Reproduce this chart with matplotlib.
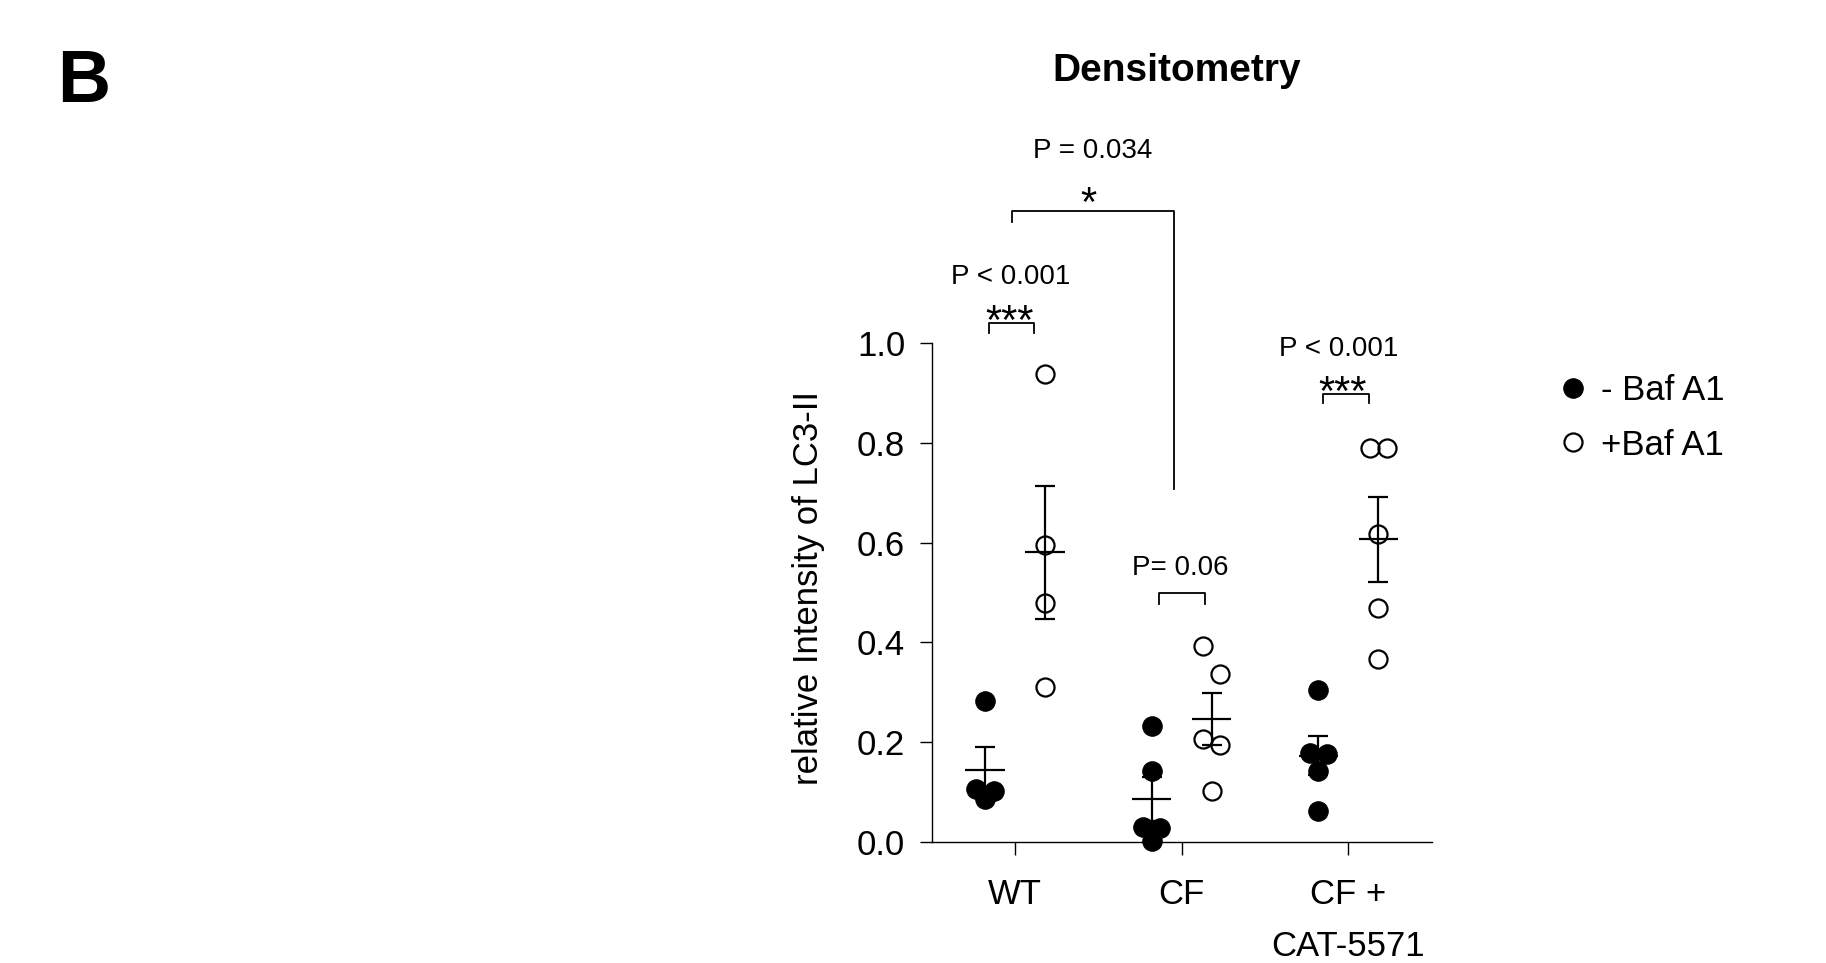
import matplotlib
matplotlib.use('Agg')
import matplotlib.pyplot as plt
import numpy as np
from matplotlib.lines import Line2D
from matplotlib.ticker import FormatStrFormatter

plt.rcParams['font.family'] = ['Liberation Sans', 'DejaVu Sans']

# datos
groups = ['WT', 'CF', 'CF +\nCAT-5571']
wt_minus = [0.282, 0.107, 0.102, 0.086]
wt_plus = [0.938, 0.595, 0.479, 0.310]
cf_minus = [0.232, 0.142, 0.030, 0.028, 0.002]
cf_plus = [0.393, 0.337, 0.207, 0.195, 0.102]
cat_minus = [0.305, 0.179, 0.177, 0.142, 0.063]
cat_plus = [0.790, 0.790, 0.617, 0.469, 0.367]
series_labels = ['- Baf A1', '+Baf A1']
p_texts = ['P < 0.001', 'P= 0.06', 'P < 0.001']
p_stars = ['***', '', '***']
p_wt_cf = 'P = 0.034'
star_wt_cf = '*'

minus_baf = [wt_minus, cf_minus, cat_minus]
plus_baf = [wt_plus, cf_plus, cat_plus]

filled = dict(marker='o', ms=14, mfc='black', mec='black', mew=0.8)
hollow = dict(marker='o', ms=13, mfc='none', mec='black', mew=1.6)


def swarm_offsets(vals, gap=0.063, dx=0.052):
    # puntos casi iguales se separan a izquierda/derecha
    order = np.argsort(vals)[::-1]
    offs = np.zeros(len(vals))
    i = 0
    while i < len(order):
        a = order[i]
        if i + 1 < len(order) and vals[a] - vals[order[i + 1]] < gap:
            offs[a] = -dx
            offs[order[i + 1]] = dx
            i += 2
        else:
            i += 1
    return offs


fig = plt.figure(figsize=(18.26, 9.63), dpi=100)
ax = fig.add_axes([0.5102, 0.1253, 0.2739, 0.5188])

for i in range(len(groups)):
    for vals, side, style in ((minus_baf[i], -0.18, filled), (plus_baf[i], 0.18, hollow)):
        vals = np.array(vals)
        xs = i + side + swarm_offsets(vals)
        ax.plot(xs, vals, linestyle='none', clip_on=False, zorder=3, **style)
        m = vals.mean()
        sem = vals.std(ddof=1) / np.sqrt(len(vals))
        ax.hlines(m, i + side - 0.118, i + side + 0.118, color='black', lw=1.6, zorder=4)
        ax.errorbar(i + side, m, yerr=sem, fmt='none', ecolor='black',
                    elinewidth=1.6, capsize=7, capthick=1.6, zorder=4)

ax.set_xlim(-0.5, 2.5)
ax.set_ylim(0, 1.0)
ax.set_xticks(range(len(groups)))
ax.set_xticklabels(groups)
ax.set_yticks(np.arange(0, 1.01, 0.2))
ax.yaxis.set_major_formatter(FormatStrFormatter('%.1f'))
for s in ['top', 'right']:
    ax.spines[s].set_visible(False)
for s in ['left', 'bottom']:
    ax.spines[s].set_linewidth(1.0)
ax.tick_params(axis='both', length=9, width=1.0, labelsize=25)
ax.tick_params(axis='y', pad=10)
ax.tick_params(axis='x', pad=17)
for lbl in ax.get_xticklabels():
    lbl.set_linespacing(1.72)

ax.set_ylabel('relative Intensity of LC3-II', fontsize=25)
ax.yaxis.set_label_coords(-0.214, 0.51)


def bracket(x0, x1, y, y_low):
    ax.plot([x0, x0, x1, x1], [y_low, y, y, y_low], color='black', lw=1.3, clip_on=False)


# brackets con valores P
br_x = [(-0.154, 0.116), (0.866, 1.14), (1.85, 2.126)]
br_y = [(1.039, 1.019), (0.500, 0.478), (0.897, 0.879)]
star_x = [-0.03, 0.99, 1.964]
txt_x = [-0.024, 0.99, 1.94]
txt_y = [1.117, 0.535, 0.973]
for k in range(3):
    bracket(br_x[k][0], br_x[k][1], br_y[k][0], br_y[k][1])
    if p_stars[k]:
        ax.text(star_x[k], br_y[k][0] - 0.021, p_stars[k], ha='center', va='baseline', fontsize=30)
    ax.text(txt_x[k], txt_y[k], p_texts[k], ha='center', va='baseline', fontsize=20)

ax.plot([-0.02, -0.02, 0.954, 0.954], [1.242, 1.264, 1.264, 0.707], color='black', lw=1.3, clip_on=False)
ax.text(0.44, 1.254, star_wt_cf, ha='center', va='baseline', fontsize=30)
ax.text(0.468, 1.369, p_wt_cf, ha='center', va='baseline', fontsize=20)

# leyenda manual
for k, (lab, style) in enumerate(zip(series_labels, [filled, hollow])):
    ym = 0.5971 - k * 0.0566
    fig.add_artist(Line2D([0.8616], [ym], transform=fig.transFigure, linestyle='none', **style))
    fig.text(0.8768, ym - 0.0129, lab, ha='left', va='baseline', fontsize=25)

fig.text(0.6446, 0.9154, 'Densitometry', ha='center', va='baseline', fontsize=28, fontweight='bold')
fig.text(0.0312, 0.8944, 'B', ha='left', va='baseline', fontsize=53, fontweight='bold')

fig.savefig('out.png', dpi=100)
